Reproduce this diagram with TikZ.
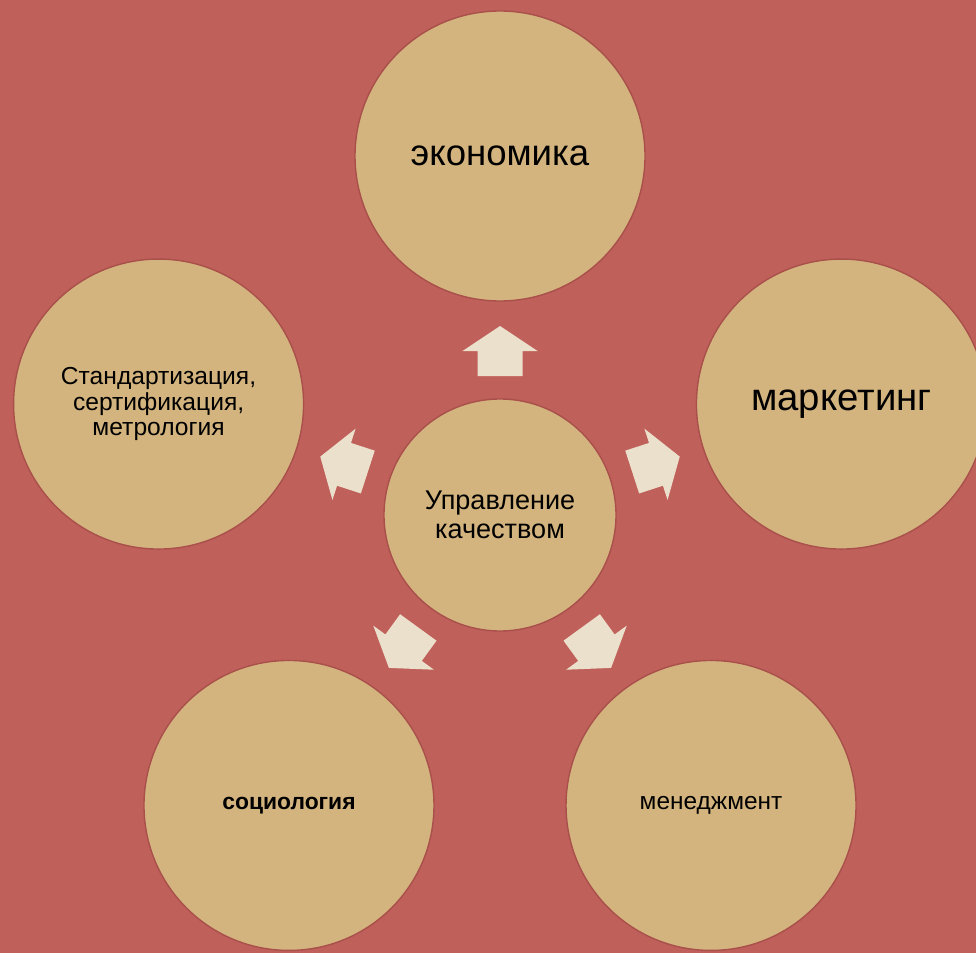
\documentclass[tikz,border=0pt]{standalone}
\usepackage{fontspec}
\setmainfont{Liberation Sans}
\usetikzlibrary{calc}
\definecolor{bgred}{HTML}{C0605A}
\definecolor{disc}{HTML}{D4B47E}
\definecolor{rim}{HTML}{A9504C}
\definecolor{blockarrow}{HTML}{EAE0CC}
\begin{document}
\begin{tikzpicture}[
    field/.style={circle, fill=disc, draw=rim, line width=0.8pt, inner sep=0pt,
      align=center, text=black},
    bigfield/.style={field, minimum size=5.8cm},
    hub/.style={field, minimum size=4.64cm, font=\fontsize{15.4}{16.5}\selectfont},
    tip/.style={fill=blockarrow}
  ]
  \useasboundingbox (0,0) rectangle (19.52,-19.06);
  \fill[bgred] (0,0) rectangle (19.52,-19.06);
  \clip (0,0) rectangle (19.52,-19.06);

  \node[hub] (Q) at (10,-10.30) {Управление\\качеством};

  \node[bigfield, font=\fontsize{20.8}{24}\selectfont] (ECO) at ($(Q)+(90:7.18)$) {экономика};
  \node[bigfield, font=\fontsize{21.8}{24}\selectfont] (MKT) at ($(Q)+(18:7.18)$) {маркетинг};
  \node[bigfield, font=\fontsize{14}{14.4}\selectfont] (STD) at ($(Q)+(162:7.18)$)
    {Стандартизация,\\сертификация,\\метрология};
  \node[bigfield, font=\fontsize{13}{15}\selectfont\bfseries] (SOC) at ($(Q)+(234:7.18)$) {социология};
  \node[bigfield, font=\fontsize{13.9}{15}\selectfont] (MGT) at ($(Q)+(306:7.18)$) {менеджмент};

  % block arrows from the hub
  \foreach \a in {90,18,162,234,306}
    \fill[tip, shift={(Q)}, rotate=\a-90]
      (-0.45,2.78) -- (0.45,2.78) -- (0.45,3.28) -- (0.75,3.28) -- (0,3.78)
      -- (-0.75,3.28) -- (-0.45,3.28) -- cycle;
\end{tikzpicture}
\end{document}
